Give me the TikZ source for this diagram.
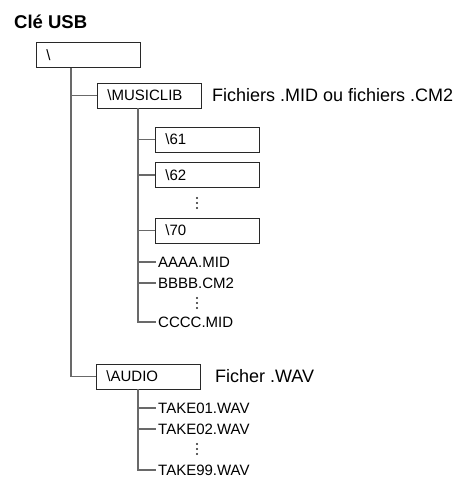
\documentclass[tikz,border=0pt]{standalone}
\usepackage{fontspec}
\setmainfont{Liberation Sans}
\usetikzlibrary{positioning}
\definecolor{boxline}{RGB}{40,40,40}
\definecolor{treeline}{RGB}{105,105,105}

\begin{document}
\begin{tikzpicture}[
  x=1pt, y=-1pt,
  folder/.style={draw=boxline, line width=.9pt, anchor=west, align=left,
    text width=84pt, inner xsep=10pt, minimum height=25pt,
    font=\fontsize{15}{18}\selectfont},
  file/.style={anchor=west, inner xsep=2pt, inner ysep=1pt,
    font=\fontsize{15}{18}\selectfont},
  desc/.style={inner sep=0pt, font=\fontsize{18}{21}\selectfont},
  dotmark/.style={fill=black!85, draw=none},
  branch/.style={draw=treeline, line width=1.2pt}
]
\useasboundingbox (0,0) rectangle (467,478);

% title
\node[anchor=west, inner sep=0pt, font=\bfseries\fontsize{18.5}{22}\selectfont]
  (title) at (14,22) {Clé USB};

% folders
\node[folder] (root) at (36,55) {\textbackslash};
\node[folder] (musiclib) at (97,95.5) {\textbackslash MUSICLIB};
\node[folder] (d61) at (155,139.5) {\textbackslash 61};
\node[folder] (d62) at (155,175) {\textbackslash 62};
\coordinate (dotsA) at (197,203);
\node[folder] (d70) at (155,230.5) {\textbackslash 70};
\node[folder] (audio) at (96,376.5) {\textbackslash AUDIO};

% files
\node[file] (aaaa) at (156,262) {AAAA.MID};
\node[file] (bbbb) at (156,283) {BBBB.CM2};
\coordinate (dotsB) at (197,303);
\node[file] (cccc) at (156,322) {CCCC.MID};
\node[file] (take01) at (156,408) {TAKE01.WAV};
\node[file] (take02) at (156,429) {TAKE02.WAV};
\coordinate (dotsC) at (197,449);
\node[file] (take99) at (156,470) {TAKE99.WAV};

% descriptions
\node[desc, anchor=west, right=10pt of musiclib] (midnote)
  {Fichiers .MID ou fichiers .CM2};
\node[desc, anchor=west, right=14pt of audio] (wavnote) {Ficher .WAV};

% tree
\coordinate (rootstem) at ([xshift=35pt]root.south west);
\coordinate (musicstem) at ([xshift=41pt]musiclib.south west);
\coordinate (audiostem) at ([xshift=42pt]audio.south west);
\draw[branch] (rootstem) |- (musiclib.west);
\draw[branch] (rootstem) |- (audio.west);
\foreach \leaf in {d61,d62,d70,aaaa,bbbb,cccc}
  \draw[branch] (musicstem) |- (\leaf.west);
\foreach \leaf in {take01,take02,take99}
  \draw[branch] (audiostem) |- (\leaf.west);

% vertical dots
\foreach \gap in {dotsA,dotsB,dotsC}
  \foreach \dy in {-5,0,5}
    \fill[dotmark] ([yshift=\dy pt]\gap) circle (1.2pt);
\end{tikzpicture}
\end{document}
